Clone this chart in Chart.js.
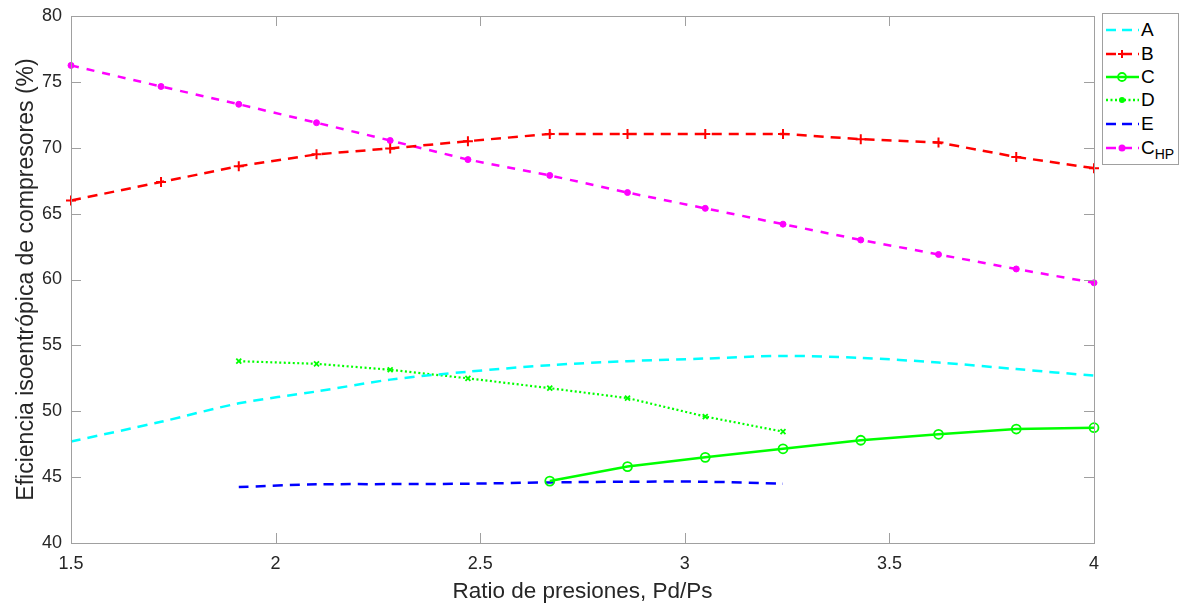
<!DOCTYPE html>
<html>
<head>
<meta charset="utf-8">
<script src="https://cdn.jsdelivr.net/npm/chart.js@4/dist/chart.umd.min.js"></script>
<style>
  html, body { margin: 0; padding: 0; background: #ffffff; }
  #wrap { position: relative; width: 1182px; height: 606px; }
  #c { position: absolute; left: 0; top: 0; }
  #legend {
    position: absolute; left: 1102px; top: 13px; width: 77px; height: 152px;
    border: 1px solid #a0a0a0; background: #fff; box-sizing: border-box;
    font-family: "Liberation Sans", Arial, sans-serif; font-size: 19px; color: #000;
  }
  .row { position: absolute; left: 0; height: 24px; width: 76px; }
  .row svg { position: absolute; left: 1px; top: 0; }
  .row span { position: absolute; left: 38px; top: 0px; line-height: 22px; }
  .row sub { font-size: 14px; vertical-align: -5px; line-height: 0; }
</style>
</head>
<body>
<div id="wrap">
  <canvas id="c" width="1182" height="606"></canvas>
  <div id="legend"></div>
</div>
<script>
// ---------- data ----------
const xRatio = [1.5, 1.72, 1.91, 2.10, 2.28, 2.47, 2.67, 2.86, 3.05, 3.24, 3.43, 3.62, 3.81, 4.0];
const seriesNames = ['A', 'B', 'C', 'D', 'E', 'C_HP'];
const effA   = [47.7, 49.2, 50.6, 51.5, 52.4, 53.0, 53.5, 53.8, 54.0, 54.2, 54.05, 53.7, 53.2, 52.7];
const effB   = [66.0, 67.4, 68.6, 69.5, 69.95, 70.5, 71.05, 71.05, 71.05, 71.05, 70.65, 70.4, 69.3, 68.45];
const effC   = [null, null, null, null, null, null, 44.7, 45.8, 46.5, 47.15, 47.8, 48.25, 48.65, 48.75];
const effD   = [null, null, 53.8, 53.6, 53.15, 52.5, 51.75, 51.0, 49.6, 48.45, null, null, null, null];
const effE   = [null, null, 44.25, 44.45, 44.47, 44.5, 44.6, 44.65, 44.65, 44.5, null, null, null, null];
const effCHP = [76.25, 74.65, 73.3, 71.9, 70.55, 69.1, 67.9, 66.6, 65.4, 64.2, 63.0, 61.9, 60.8, 59.75];
const xTicks = [1.5, 2, 2.5, 3, 3.5, 4];
const yTicks = [40, 45, 50, 55, 60, 65, 70, 75, 80];
const xTitle = 'Ratio de presiones, Pd/Ps';
const yTitle = 'Eficiencia isoentrópica de compresores (%)';

function pts(arr) { return xRatio.map((x, i) => ({ x: x, y: arr[i] })).filter(p => p.y !== null); }

const FONT = '"Liberation Sans", Arial, sans-serif';
const AXIS_GREY = '#a0a0a0';
const TEXT = '#262626';

const datasets = [
  { label: 'A', data: pts(effA), borderColor: '#00ffff', borderWidth: 2.5, borderDash: [10, 7],
    pointRadius: 0, tension: 0.3 },
  { label: 'B', data: pts(effB), borderColor: '#ff0000', borderWidth: 2.5, borderDash: [10, 7],
    pointStyle: 'cross', pointRadius: 5, pointBorderWidth: 2, pointBorderColor: '#ff0000' },
  { label: 'C', data: pts(effC), borderColor: '#00ff00', borderWidth: 2.5,
    pointStyle: 'circle', pointRadius: 4.5, pointBorderWidth: 1.8, pointBackgroundColor: 'rgba(0,0,0,0)', pointBorderColor: '#00ff00' },
  { label: 'D', data: pts(effD), borderColor: '#00ff00', borderWidth: 2.2, borderDash: [2, 2.5],
    pointStyle: 'crossRot', pointRadius: 3.5, pointBorderWidth: 1.8, pointBorderColor: '#00ff00' },
  { label: 'E', data: pts(effE), borderColor: '#0000ff', borderWidth: 2.5, borderDash: [10, 7],
    pointRadius: 0, tension: 0.3 },
  { label: 'C_HP', data: pts(effCHP), borderColor: '#ff00ff', borderWidth: 2.5, borderDash: [8, 8],
    pointStyle: 'circle', pointRadius: 3, pointBorderWidth: 1, pointBackgroundColor: '#ff00ff', pointBorderColor: '#ff00ff' }
];
datasets.forEach(d => { d.fill = false; d.clip = false; d.backgroundColor = d.borderColor; if (d.tension === undefined) d.tension = 0; });

// inward ticks + box, MATLAB style
const boxPlugin = {
  id: 'matlabBox',
  afterDatasetsDraw(chart) {
    const { ctx, chartArea: a, scales } = chart;
    ctx.save();
    ctx.strokeStyle = AXIS_GREY;
    ctx.lineWidth = 1;
    const L = 10;
    ctx.beginPath();
    xTicks.forEach(v => {
      const px = Math.round(scales.x.getPixelForValue(v)) + 0.5;
      ctx.moveTo(px, a.bottom); ctx.lineTo(px, a.bottom - L);
      ctx.moveTo(px, a.top); ctx.lineTo(px, a.top + L);
    });
    yTicks.forEach(v => {
      const py = Math.round(scales.y.getPixelForValue(v)) + 0.5;
      ctx.moveTo(a.left, py); ctx.lineTo(a.left + L, py);
      ctx.moveTo(a.right, py); ctx.lineTo(a.right - L, py);
    });
    ctx.stroke();
    ctx.strokeRect(Math.round(a.left) + 0.5, Math.round(a.top) + 0.5, Math.round(a.right - a.left), Math.round(a.bottom - a.top));
    ctx.restore();
  }
};

new Chart(document.getElementById('c'), {
  type: 'line',
  data: { datasets },
  options: {
    responsive: false,
    animation: false,
    events: [],
    layout: { padding: { top: 16, right: 88, left: 0, bottom: 0 } },
    plugins: { legend: { display: false }, tooltip: { enabled: false } },
    scales: {
      x: {
        type: 'linear', min: 1.5, max: 4,
        afterBuildTicks: s => { s.ticks = xTicks.map(v => ({ value: v })); },
        afterFit: s => { s.height = 63; s.paddingLeft = 0; s.paddingRight = 0; },
        grid: { display: false, drawTicks: false },
        border: { display: false },
        ticks: { color: TEXT, font: { family: FONT, size: 18 }, padding: 10, maxRotation: 0,
                 callback: v => String(v) },
        title: { display: true, text: xTitle, color: TEXT, font: { family: FONT, size: 22.5 }, padding: { top: 0, bottom: 1 } }
      },
      y: {
        type: 'linear', min: 40, max: 80,
        afterBuildTicks: s => { s.ticks = yTicks.map(v => ({ value: v })); },
        afterFit: s => { s.width = 71; s.paddingTop = 0; s.paddingBottom = 0; },
        grid: { display: false, drawTicks: false },
        border: { display: false },
        ticks: { color: TEXT, font: { family: FONT, size: 18 }, padding: 9, callback: v => String(v) },
        title: { display: true, text: yTitle, color: TEXT, font: { family: FONT, size: 23 }, padding: { top: 13, bottom: 0 } }
      }
    }
  },
  plugins: [boxPlugin]
});

// ---------- HTML legend (for subscript) ----------
const legendSpecs = [
  { name: 'A', color: '#00ffff', dash: '10,6', marker: null },
  { name: 'B', color: '#ff0000', dash: '10,6', marker: 'plus' },
  { name: 'C', color: '#00ff00', dash: null, marker: 'circle' },
  { name: 'D', color: '#00ff00', dash: '2,2.5', marker: 'dot' },
  { name: 'E', color: '#0000ff', dash: '10,6', marker: null },
  { name: 'C_HP', color: '#ff00ff', dash: '10,6', marker: 'fill' }
];
const rowTops = [5, 29, 52, 75, 99, 123];
const leg = document.getElementById('legend');
legendSpecs.forEach((s, i) => {
  const row = document.createElement('div');
  row.className = 'row';
  row.style.top = rowTops[i] + 'px';
  let m = '';
  const cx = 18, cy = 11;
  if (s.marker === 'plus') m = `<path d="M${cx-4} ${cy}H${cx+4}M${cx} ${cy-4}V${cy+4}" stroke="${s.color}" stroke-width="2"/>`;
  if (s.marker === 'circle') m = `<circle cx="${cx}" cy="${cy}" r="4" fill="none" stroke="${s.color}" stroke-width="1.8"/>`;
  if (s.marker === 'dot') m = `<circle cx="${cx}" cy="${cy}" r="3" fill="${s.color}"/>`;
  if (s.marker === 'fill') m = `<circle cx="${cx}" cy="${cy}" r="3.5" fill="${s.color}"/>`;
  row.innerHTML = `<svg width="36" height="22"><line x1="2" y1="${cy}" x2="35" y2="${cy}" stroke="${s.color}" stroke-width="2.5" ${s.dash ? `stroke-dasharray="${s.dash}"` : ''}/>${m}</svg>` +
    `<span>${s.name === 'C_HP' ? 'C<sub>HP</sub>' : s.name}</span>`;
  leg.appendChild(row);
});
</script>
</body>
</html>
